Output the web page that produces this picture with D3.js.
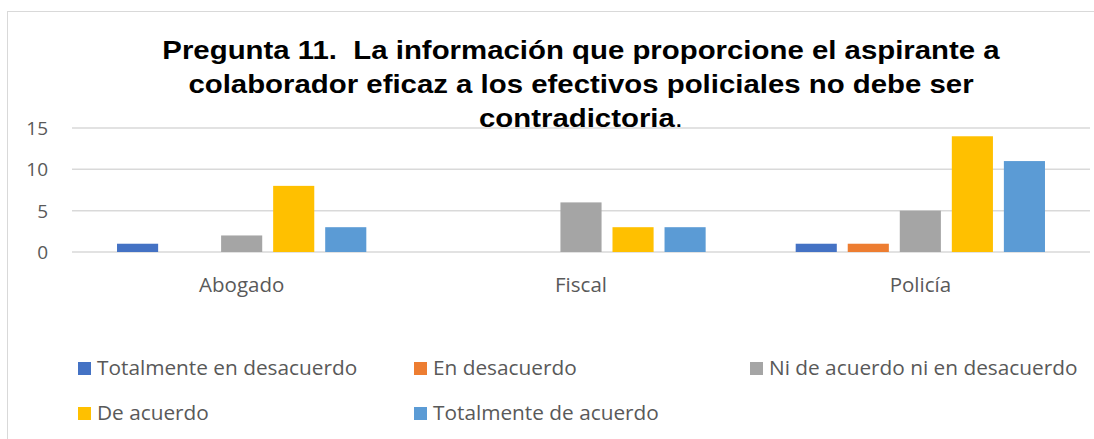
<!DOCTYPE html>
<html>
<head>
<meta charset="utf-8">
<script src="https://cdn.jsdelivr.net/npm/d3@7"></script>
<style>
  body { margin: 0; background: #fff; }
  text { font-family: "Open Sans", sans-serif; }
  text.title { font-family: "Liberation Sans", Arial, sans-serif; white-space: pre; }
</style>
</head>
<body>
<div id="chart"></div>
<script>
// data
var categories = ["Abogado", "Fiscal", "Policía"]
var series = ["Totalmente en desacuerdo", "En desacuerdo", "Ni de acuerdo ni en desacuerdo", "De acuerdo", "Totalmente de acuerdo"]
var totalDesacuerdo = [1, 0, 1]
var enDesacuerdo = [0, 0, 1]
var niNi = [2, 6, 5]
var deAcuerdo = [8, 3, 14]
var totalAcuerdo = [3, 3, 11]
var yTicks = [0, 5, 10, 15]
var titleLines = ["Pregunta 11.  La información que proporcione el aspirante a",
                  "colaborador eficaz a los efectivos policiales no debe ser",
                  "contradictoria"]

var seriesValues = [totalDesacuerdo, enDesacuerdo, niNi, deAcuerdo, totalAcuerdo]
var colors = ["#4472C4", "#ED7D31", "#A5A5A5", "#FFC000", "#5B9BD5"]

var width = 1094,
    height = 439

var svg = d3.select("#chart")
  .append("svg")
    .attr("width", width)
    .attr("height", height)

// chart border
svg.append("rect")
  .attr("x", 7.5).attr("y", 11.5)
  .attr("width", width + 10).attr("height", height + 10)
  .attr("fill", "white")
  .attr("stroke", "#d9d9d9")
  .attr("stroke-width", 1)

// scales
var x0 = d3.scaleBand()
  .domain(categories)
  .range([72, 1090])

var x1 = d3.scaleBand()
  .domain(series)
  .range([0, x0.bandwidth()])
  .paddingInner(0.21)
  .paddingOuter(0.865)

var y = d3.scaleLinear()
  .domain([0, 15])
  .range([252, 128])

// gridlines
svg.append("g")
  .selectAll("line")
  .data(yTicks)
  .enter()
  .append("line")
    .attr("x1", 72)
    .attr("x2", 1090)
    .attr("y1", function(d) { return y(d) })
    .attr("y2", function(d) { return y(d) })
    .attr("stroke", "#d9d9d9")
    .attr("stroke-width", 1.5)

// y tick labels
svg.append("g")
  .selectAll("text")
  .data(yTicks)
  .enter()
  .append("text")
    .attr("x", 48)
    .attr("y", function(d) { return y(d) + 7 })
    .attr("text-anchor", "end")
    .attr("font-size", "19px")
    .attr("fill", "#595959")
    .text(function(d) { return d })

// bars
var groups = svg.append("g")
  .selectAll("g")
  .data(categories)
  .enter()
  .append("g")
    .attr("transform", function(d) { return "translate(" + x0(d) + ",0)" })

groups.selectAll("rect")
  .data(function(d, i) {
    return series.map(function(s, j) { return {key: s, value: seriesValues[j][i], color: colors[j]} })
  })
  .enter()
  .append("rect")
    .attr("x", function(d) { return x1(d.key) })
    .attr("y", function(d) { return y(d.value) })
    .attr("width", x1.bandwidth())
    .attr("height", function(d) { return y(0) - y(d.value) })
    .attr("fill", function(d) { return d.color })

// category labels
svg.append("g")
  .selectAll("text")
  .data(categories)
  .enter()
  .append("text")
    .attr("x", function(d) { return x0(d) + x0.bandwidth() / 2 })
    .attr("y", 292)
    .attr("text-anchor", "middle")
    .attr("font-size", "20.5px")
    .attr("fill", "#595959")
    .text(function(d) { return d })

// title (a bit stretched horizontally like the original)
var title = svg.append("g")
titleLines.forEach(function(line, i) {
  var t = title.append("text")
    .attr("class", "title")
    .attr("transform", "translate(581," + (59 + i * 34) + ") scale(1.13,1)")
    .attr("text-anchor", "middle")
    .attr("font-weight", "bold")
    .attr("font-size", "26px")
    .attr("fill", "#000")
  t.append("tspan").text(line)
  if (i == titleLines.length - 1) {
    t.append("tspan").attr("font-weight", "normal").text(".")
  }
})

// legend
var legendPos = [[78, 362], [414, 362], [750, 362], [78, 407], [414, 407]]
var legend = svg.append("g")
  .selectAll("g")
  .data(series)
  .enter()
  .append("g")
    .attr("transform", function(d, i) { return "translate(" + legendPos[i][0] + "," + legendPos[i][1] + ")" })

legend.append("rect")
  .attr("width", 13)
  .attr("height", 13)
  .attr("fill", function(d, i) { return colors[i] })

legend.append("text")
  .attr("x", 19)
  .attr("y", 13)
  .attr("font-size", "20.8px")
  .attr("fill", "#595959")
  .text(function(d) { return d })
</script>
</body>
</html>
